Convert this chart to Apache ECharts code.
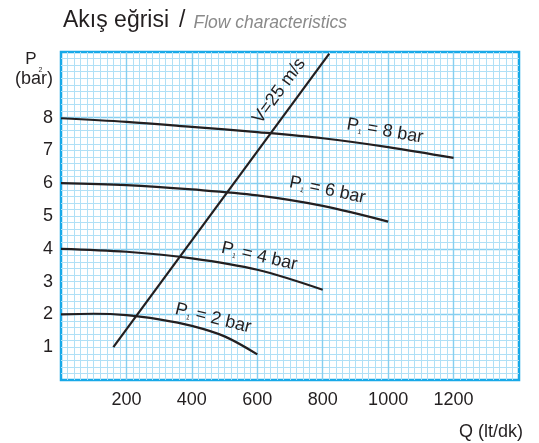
<!DOCTYPE html>
<html><head><meta charset="utf-8">
<script src="https://cdn.jsdelivr.net/npm/echarts@6/dist/echarts.min.js"></script>
<style>html,body{margin:0;padding:0;background:#fff}#c{width:539px;height:443px}</style>
</head><body><div id="c"></div>
<script>
// ---- data ----
const xTickLabels = [200, 400, 600, 800, 1000, 1200];
const yTickLabels = [1, 2, 3, 4, 5, 6, 7, 8];

const q8 = [0, 200, 400, 600, 800, 1000, 1200];
const p8 = [7.98, 7.87, 7.72, 7.56, 7.37, 7.10, 6.77];
const q6 = [0, 200, 400, 600, 800, 1000];
const p6 = [6.0, 5.94, 5.81, 5.63, 5.31, 4.83];
const q4 = [0, 200, 400, 600, 800];
const p4 = [4.0, 3.91, 3.71, 3.36, 2.75];
const q2 = [0, 100, 200, 300, 400, 500, 600];
const p2 = [2.0, 2.02, 1.98, 1.85, 1.65, 1.33, 0.78];
const qV = [160, 820];
const pV = [1.0, 9.95];

const curveNames = ['8', '6', '4', '2'];
// label anchors in data coordinates
const labelQ = [990, 814, 606, 465];
const labelP = [7.59, 5.79, 3.77, 1.88];
const labelAngle = [-10, -12, -13, -14];
const vLabel = 'V=25 m/s';
const vLabelQ = 667, vLabelP = 8.81, vLabelAngle = 53.6;

const zip = (a, b) => a.map((v, i) => [v, b[i]]);
const FONT = '"Liberation Sans", Arial, Helvetica, sans-serif';
const BLUE = '#18a9e8';

const lineSeries = (data) => ({
  type: 'line', data, smooth: 0.35, symbol: 'none', z: 5,
  lineStyle: { color: '#231f20', width: 2.2 }, silent: true
});

const chart = echarts.init(document.getElementById('c'));
const option = {
  animation: false,
  grid: { left: 61, right: 20, top: 52, bottom: 63, show: true, borderColor: BLUE, borderWidth: 2.5, backgroundColor: '#ffffff' },
  xAxis: {
    type: 'value', min: 0, max: 1400, interval: 200,
    axisLine: { show: false }, axisTick: { show: false },
    axisLabel: { fontFamily: FONT, fontSize: 18, color: '#231f20', margin: 11,
      formatter: v => xTickLabels.includes(v) ? String(v) : '' },
    splitLine: { show: true, showMinLine: false, showMaxLine: false, lineStyle: { color: '#86cff0', width: 1.4 } },
    minorTick: { show: false, splitNumber: 10 },
    minorSplitLine: { show: true, lineStyle: { color: '#b0e0f6', width: 1 } }
  },
  yAxis: [{
    type: 'value', min: 0, max: 10, interval: 1,
    axisLine: { show: false }, axisTick: { show: false },
    axisLabel: { fontFamily: FONT, fontSize: 18, color: '#231f20', margin: 8,
      formatter: v => yTickLabels.includes(v) ? String(v) : '' },
    splitLine: { show: false }
  }, {
    type: 'value', min: 0, max: 10, interval: 2, position: 'left',
    axisLine: { show: false }, axisTick: { show: false }, axisLabel: { show: false },
    splitLine: { show: true, showMinLine: false, showMaxLine: false, lineStyle: { color: '#86cff0', width: 1.4 } },
    minorTick: { show: false, splitNumber: 10 },
    minorSplitLine: { show: true, lineStyle: { color: '#b0e0f6', width: 1 } }
  }],
  series: [
    lineSeries(zip(q8, p8)),
    lineSeries(zip(q6, p6)),
    lineSeries(zip(q4, p4)),
    lineSeries(zip(q2, p2)),
    Object.assign(lineSeries(zip(qV, pV)), { smooth: false })
  ]
};
chart.setOption(option);

const deg = a => a * Math.PI / 180;
const graphics = [
  { type: 'text', x: 63, y: 32, style: {
      text: '{a|Akış eğrisi}{sl|/}{c|Flow characteristics}',
      rich: {
        a: { fontFamily: FONT, fontSize: 23, fill: '#231f20', verticalAlign: 'bottom' },
        sl: { fontFamily: FONT, fontSize: 23, fill: '#231f20', verticalAlign: 'bottom', padding: [0, 8, 0, 10] },
        c: { fontFamily: FONT, fontSize: 17.5, fontStyle: 'italic', fill: '#8a8a8a', verticalAlign: 'bottom' }
      }, verticalAlign: 'bottom' } },
  { type: 'text', x: 31, y: 59.5, style: { text: 'P', fontFamily: FONT, fontSize: 17, fill: '#231f20', align: 'center', verticalAlign: 'middle' } },
  { type: 'text', x: 40.5, y: 70, style: { text: '2', fontFamily: FONT, fontSize: 7, fill: '#231f20', align: 'center', verticalAlign: 'middle' } },
  { type: 'text', x: 34, y: 79, style: { text: '(bar)', fontFamily: FONT, fontSize: 18, fill: '#231f20', align: 'center', verticalAlign: 'middle' } },
  { type: 'text', x: 523, y: 432, style: { text: 'Q (lt/dk)', fontFamily: FONT, fontSize: 18, fill: '#231f20', align: 'right', verticalAlign: 'middle' } }
];
curveNames.forEach((n, i) => {
  const [px, py] = chart.convertToPixel({ gridIndex: 0 }, [labelQ[i], labelP[i]]);
  graphics.push({ type: 'text', x: px, y: py, rotation: deg(labelAngle[i]), z: 10, style: {
    text: '{p|P}{s|1}{p| = ' + n + ' bar}',
    rich: {
      p: { fontFamily: FONT, fontSize: 18, fill: '#231f20', verticalAlign: 'bottom' },
      s: { fontFamily: FONT, fontSize: 7, fill: '#231f20', verticalAlign: 'bottom' }
    }, align: 'center', verticalAlign: 'middle' } });
});
{
  const [px, py] = chart.convertToPixel({ gridIndex: 0 }, [vLabelQ, vLabelP]);
  graphics.push({ type: 'text', x: px, y: py, rotation: deg(vLabelAngle), z: 10, style: {
    text: vLabel, fontFamily: FONT, fontSize: 18, fill: '#231f20', align: 'center', verticalAlign: 'middle' } });
}
chart.setOption({ graphic: graphics });
</script>
</body></html>
